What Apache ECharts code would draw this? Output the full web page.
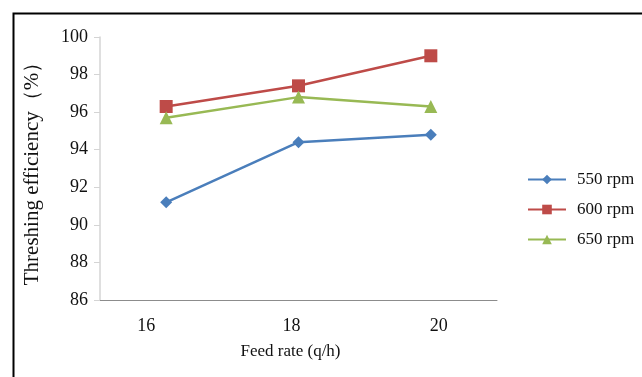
<!DOCTYPE html>
<html>
<head>
<meta charset="utf-8">
<script src="https://cdn.jsdelivr.net/npm/echarts@6/dist/echarts.min.js"></script>
<style>html,body{margin:0;padding:0;background:#fff}#c{width:642px;height:377px}</style>
</head>
<body>
<div id="c"></div>
<script>
var categories = ['16', '18', '20'];
var rpm550 = [91.2, 94.4, 94.8];
var rpm600 = [96.3, 97.4, 99.0];
var rpm650 = [95.7, 96.8, 96.3];
var seriesNames = ['550 rpm', '600 rpm', '650 rpm'];
var yTicks = { min: 86, max: 100, interval: 2 };

var font = '"Liberation Serif", "DejaVu Serif", serif';
var chart = echarts.init(document.getElementById('c'), null, { renderer: 'canvas' });
var labelStyles = ['a', 'b', 'c'];
function mk(name, data, color, symbol, size) {
  return {
    name: name, type: 'line', data: data,
    symbol: symbol, symbolSize: size,
    lineStyle: { color: color, width: 2.5 },
    itemStyle: { color: color },
    emphasis: { disabled: true }
  };
}
chart.setOption({
  animation: false,
  graphic: [{
    type: 'rect', left: 11, top: 11,
    shape: { width: 700, height: 500 },
    style: { fill: 'none', stroke: '#000', lineWidth: 2 }
  }],
  grid: { left: 100, top: 37, right: 145, bottom: 77 },
  legend: {
    orient: 'vertical', left: 522, top: 166,
    itemWidth: 38, itemHeight: 12, itemGap: 13,
    textStyle: { fontFamily: font, fontSize: 17, color: '#111', padding: [0, 0, 0, 6] },
    data: seriesNames
  },
  xAxis: {
    type: 'category', data: categories, boundaryGap: true,
    name: 'Feed rate (q/h)', nameLocation: 'middle', nameGap: 43,
    nameTextStyle: { fontFamily: font, fontSize: 17, color: '#111', padding: [0, 16, 0, 0] },
    axisLine: { lineStyle: { color: '#8c8c8c', width: 1 } },
    axisTick: { show: false },
    axisLabel: {
      margin: 17,
      formatter: function (v, i) { return '{' + labelStyles[i] + '|' + v + '}'; },
      rich: {
        a: { fontFamily: font, fontSize: 18, color: '#111', padding: [0, 40, 0, 0] },
        b: { fontFamily: font, fontSize: 18, color: '#111', padding: [0, 14, 0, 0] },
        c: { fontFamily: font, fontSize: 18, color: '#111', padding: [0, 0, 0, 16] }
      }
    }
  },
  yAxis: {
    type: 'value', min: yTicks.min, max: yTicks.max, interval: yTicks.interval,
    name: 'Threshing efficiency（%）', nameLocation: 'middle', nameGap: 57, nameRotate: 90,
    nameTextStyle: { fontFamily: font, fontSize: 21, color: '#111' },
    axisLine: { show: true, lineStyle: { color: '#d4d4d4', width: 1.5 } },
    axisTick: { show: true, length: 6, lineStyle: { color: '#d4d4d4' } },
    splitLine: { show: false },
    axisLabel: { fontFamily: font, fontSize: 18, color: '#111', margin: 12 }
  },
  series: [
    mk(seriesNames[0], rpm550, '#4a7ebb', 'diamond', 12),
    mk(seriesNames[1], rpm600, '#be4b48', 'rect', 13),
    mk(seriesNames[2], rpm650, '#98b954', 'triangle', 13)
  ]
});
</script>
</body>
</html>
